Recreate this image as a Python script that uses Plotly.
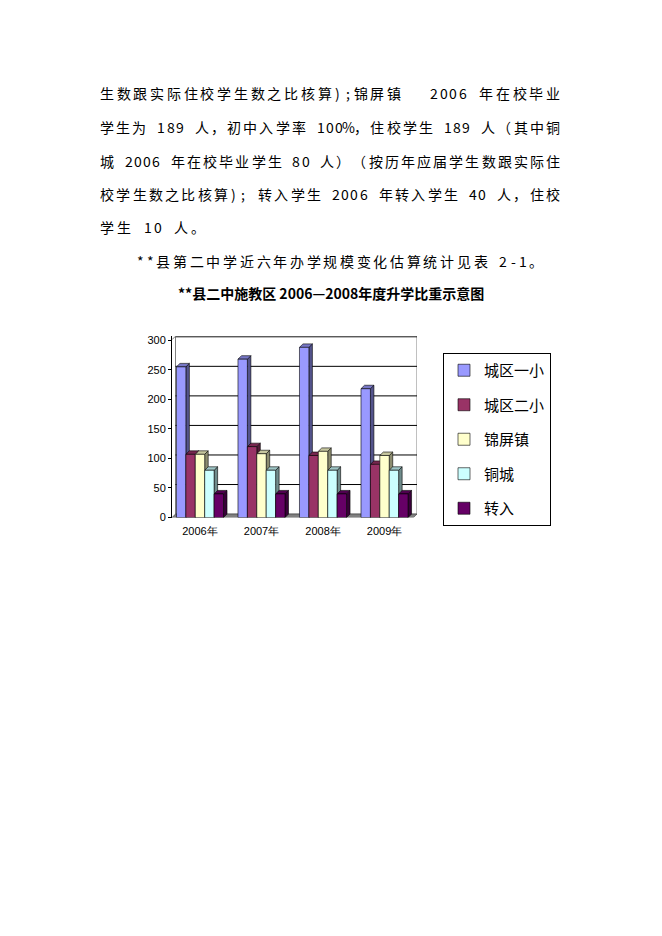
import plotly.graph_objects as go

## Data
years = ["2006年", "2007年", "2008年", "2009年"]
schools = ["城区一小", "城区二小", "锦屏镇", "铜城", "转入"]
chengqu_1 = [255, 268, 288, 218]
chengqu_2 = [107, 120, 105, 90]
jinping = [107, 108, 112, 105]
tongcheng = [80, 80, 80, 80]
zhuanru = [40, 40, 40, 40]
y_ticks = [0, 50, 100, 150, 200, 250, 300]

series = [chengqu_1, chengqu_2, jinping, tongcheng, zhuanru]
colors = ["#9999FF", "#993366", "#FFFFCC", "#CCFFFF", "#660066"]

# body text of the page
body_lines = [
    "生数跟实际住校学生数之比核算);锦屏镇　 2006 年在校毕业",
    "学生为 189 人，初中入学率 100%，住校学生 189 人（其中铜",
    "城 2006 年在校毕业学生 80 人）（按历年应届学生数跟实际住",
    "校学生数之比核算); 转入学生 2006 年转入学生 40 人，住校",
    "学生 10 人。",
]
note_line = "**县第二中学近六年办学规模变化估算统计见表 2-1。"
chart_title = "**县二中施教区 2006—2008年度升学比重示意图"

# the page body keeps its 8px margin, so the figure is 16px smaller
# and page pixel positions are shifted by 8
PAD = 8
W, H = 662 - 2 * PAD, 936 - 2 * PAD
CJK = "Noto Sans CJK SC"


def fx(p):
    return (p - PAD) / W


def fy(p):
    return 1 - (p - PAD) / H


def shade(hex_color, f):
    r, g, b = (int(hex_color[i:i + 2], 16) for i in (1, 3, 5))
    return "rgb(%d,%d,%d)" % (r * f, g * f, b * f)


def char_w(ch, size):
    return size * 0.5 if ord(ch) < 128 else size


annotations = []


def place_line(text, x0, y, size=14, extra=3.0, width=None):
    # lay out characters one by one so spacing looks like the printed page
    widths = [char_w(c, size) for c in text]
    if width is not None and len(text) > 1:
        extra = (width - sum(widths)) / (len(text) - 1)
    cur = x0
    for c, w in zip(text, widths):
        if c.strip():
            annotations.append(dict(
                x=fx(cur + w / 2), y=fy(y), xref="paper", yref="paper",
                text=c, showarrow=False, xanchor="center", yanchor="middle",
                font=dict(family=CJK, size=size, color="black")))
        cur += w + extra


line_y = [92, 126, 160, 194, 227]
for i, t in enumerate(body_lines):
    place_line(t, 100, line_y[i], width=460 if i < 4 else None)
place_line(note_line, 137, 261, width=406)

annotations.append(dict(
    x=fx(331), y=fy(293), xref="paper", yref="paper",
    text="<b>" + chart_title + "</b>", showarrow=False,
    xanchor="center", yanchor="middle",
    font=dict(family=CJK, size=14, color="black")))

## Chart geometry (front plane of the 3d box)
x_range = [-0.455, 3.528]
y_range = [0, 307]
dx, dy = 0.057, 5.9          # depth offset of the 3d look
bargap = 0.235
bw = (1 - bargap) / len(series)

fig = go.Figure()
for k, vals in enumerate(series):
    fig.add_trace(go.Bar(
        x=list(range(len(years))), y=vals, name=schools[k],
        width=bw, offset=-(1 - bargap) / 2 + k * bw,
        marker=dict(color=colors[k], line=dict(color="black", width=0.6)),
        legendgroup=schools[k],
    ))

shapes = []
# back wall + gridlines
shapes.append(dict(type="rect", xref="x", yref="y", layer="below",
                   x0=x_range[0] + dx, x1=x_range[1], y0=dy, y1=y_range[1],
                   line=dict(color="#808080", width=1), fillcolor="white"))
for v in y_ticks[1:]:
    shapes.append(dict(type="line", xref="x", yref="y", layer="below",
                       x0=x_range[0] + dx, x1=x_range[1], y0=v + dy, y1=v + dy,
                       line=dict(color="black", width=1)))
# left wall edge
shapes.append(dict(type="line", xref="x", yref="y", layer="below",
                   x0=x_range[0], x1=x_range[0] + dx, y0=y_range[1] - dy, y1=y_range[1],
                   line=dict(color="#808080", width=1)))
# floor
shapes.append(dict(type="path", xref="x", yref="y", layer="between",
                   path="M%f,0 L%f,0 L%f,%f L%f,%f Z" % (
                       x_range[0], x_range[1] - dx, x_range[1], dy, x_range[0] + dx, dy),
                   fillcolor="#808080", line=dict(color="#404040", width=0.6)))

# side and top faces of every bar
for c in range(len(years)):
    for k, vals in enumerate(series):
        v = vals[c]
        x0 = c - (1 - bargap) / 2 + k * bw
        x1 = x0 + bw
        shapes.append(dict(type="path", xref="x", yref="y", layer="between",
                           path="M%f,0 L%f,%f L%f,%f L%f,%f Z" % (
                               x1, x1 + dx, dy, x1 + dx, v + dy, x1, v),
                           fillcolor=shade(colors[k], 0.55),
                           line=dict(color="black", width=0.6)))
        shapes.append(dict(type="path", xref="x", yref="y", layer="between",
                           path="M%f,%f L%f,%f L%f,%f L%f,%f Z" % (
                               x0, v, x1, v, x1 + dx, v + dy, x0 + dx, v + dy),
                           fillcolor=shade(colors[k], 0.78),
                           line=dict(color="black", width=0.6)))

tick_font = dict(family="Liberation Sans Narrow, Liberation Sans, Arial", size=11, color="black")

fig.update_layout(
    width=W, height=H, autosize=False,
    margin=dict(l=0, r=0, t=0, b=0),
    paper_bgcolor="white", plot_bgcolor="rgba(0,0,0,0)",
    barmode="overlay",
    xaxis=dict(domain=[fx(172), fx(417)], range=x_range,
               tickvals=list(range(len(years))), ticktext=years,
               showgrid=False, zeroline=False, showline=False,
               ticks="", ticklabelstandoff=5, tickfont=tick_font),
    yaxis=dict(domain=[fy(520), fy(337)], range=y_range,
               tickvals=y_ticks, showgrid=False, zeroline=False,
               showline=True, linecolor="black", linewidth=1,
               ticks="outside", ticklen=3, tickcolor="black",
               tickfont=tick_font),
    legend=dict(x=fx(443), y=fy(354), xanchor="left", yanchor="top",
                bordercolor="black", borderwidth=1, bgcolor="white",
                font=dict(family=CJK, size=15, color="black"),
                traceorder="grouped", tracegroupgap=12, itemwidth=30),
    shapes=shapes,
    annotations=annotations,
    showlegend=True,
)

fig.write_html("out.html")
